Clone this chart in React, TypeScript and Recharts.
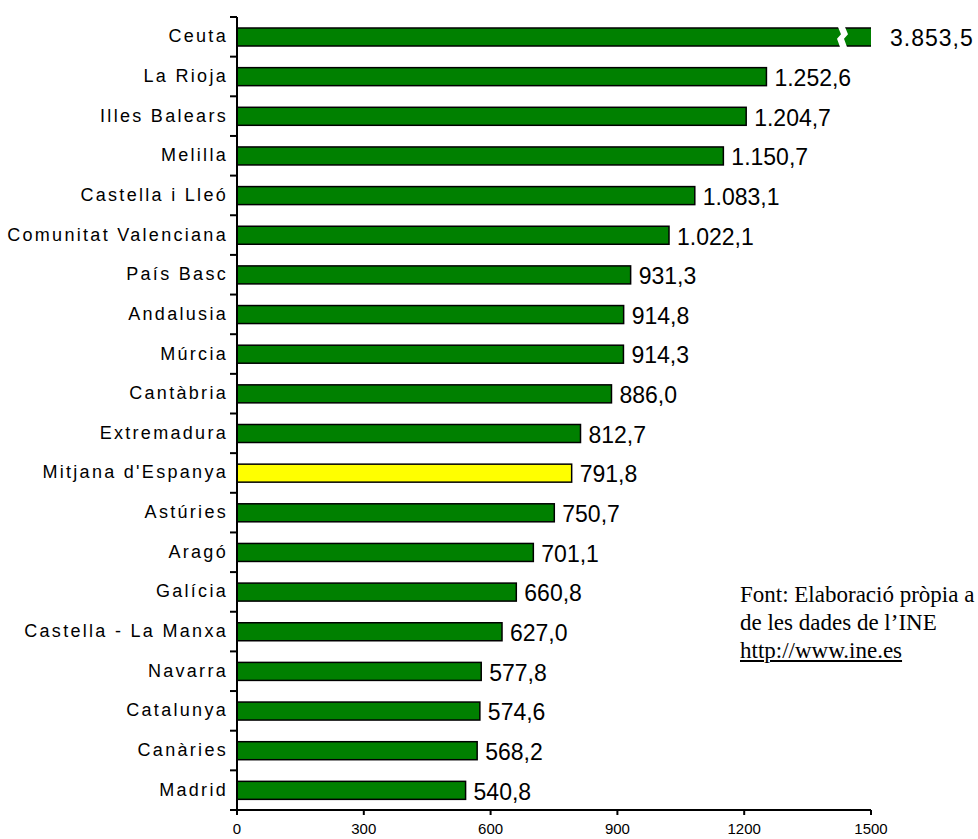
import React from 'react';
import { BarChart, Bar, XAxis, YAxis, Cell, LabelList } from 'recharts';

// regions, top to bottom
const regions = [
  'Ceuta', 'La Rioja', 'Illes Balears', 'Melilla', 'Castella i Lleó',
  'Comunitat Valenciana', 'País Basc', 'Andalusia', 'Múrcia', 'Cantàbria',
  'Extremadura', "Mitjana d'Espanya", 'Astúries', 'Aragó', 'Galícia',
  'Castella - La Manxa', 'Navarra', 'Catalunya', 'Canàries', 'Madrid',
];
const rates = [
  3853.5, 1252.6, 1204.7, 1150.7, 1083.1,
  1022.1, 931.3, 914.8, 914.3, 886.0,
  812.7, 791.8, 750.7, 701.1, 660.8,
  627.0, 577.8, 574.6, 568.2, 540.8,
];
const xTicks = [0, 300, 600, 900, 1200, 1500];
const averageName = "Mitjana d'Espanya";
const sourceLines = ['Font: Elaboració pròpia a', 'de les dades de l’INE'];
const sourceLink = 'http://www.ine.es';

const data = regions.map((name, i) => ({ name, value: rates[i] }));

const W = 978;
const H = 839;
const margin = { top: 17, right: 107, bottom: 0, left: 0 };
const AXIS_W = 237;
const AXIS_H = 29;
const PLOT_RIGHT = W - margin.right;
const band = (H - margin.top - AXIS_H) / regions.length;
const sans = '"Liberation Sans", Arial, sans-serif';

// 1.252,6 style
const fmt = (v: number) => {
  const [int, dec] = v.toFixed(1).split('.');
  return int.replace(/\B(?=(\d{3})+(?!\d))/g, '.') + ',' + dec;
};

const BrokenBar = (props: any) => {
  const { x, y, width, height, fill } = props;
  const w = Math.min(width, PLOT_RIGHT - x + 2);
  const broken = width > w;
  const bx = x + w - 35;
  return (
    <g>
      <rect x={x} y={y} width={w} height={height} fill={fill} stroke="#000" strokeWidth={1.5} />
      {broken && (
        <polygon
          points={[
            [bx, y - 1], [bx + 3, y + height * 0.35], [bx - 1, y + height * 0.6], [bx + 2, y + height + 1],
            [bx + 9, y + height + 1], [bx + 6, y + height * 0.6], [bx + 10, y + height * 0.35], [bx + 7, y - 1],
          ].map((p) => p.join(',')).join(' ')}
          fill="#fff"
        />
      )}
    </g>
  );
};

const ValueLabel = (props: any) => {
  const { x, y, width, height, value } = props;
  const broken = x + width > PLOT_RIGHT + 2;
  const end = broken ? PLOT_RIGHT + 2 : x + width;
  return (
    <text
      x={end + (broken ? 17 : 8)}
      y={y + height / 2 + 1}
      dy="0.36em"
      fontSize={23}
      letterSpacing={broken ? 1 : 0}
      fontFamily={sans}
      fill="#000"
    >
      {fmt(value)}
    </text>
  );
};

const RegionTick = (props: any) => {
  const { y, payload, index } = props;
  const top = y - band / 2;
  return (
    <g>
      <line x1={AXIS_W - 7} x2={AXIS_W} y1={top} y2={top} stroke="#000" strokeWidth={2} />
      {index === regions.length - 1 && (
        <line x1={AXIS_W - 7} x2={AXIS_W} y1={top + band} y2={top + band} stroke="#000" strokeWidth={2} />
      )}
      <text
        x={AXIS_W - 9}
        y={y - 1}
        dy="0.36em"
        textAnchor="end"
        fontSize={18}
        letterSpacing={2.3}
        fontFamily={sans}
        fill="#000"
      >
        {payload.value}
      </text>
    </g>
  );
};

const ScaleTick = (props: any) => {
  const { x, payload } = props;
  return (
    <text x={x} y={H - 10} dy="0.36em" textAnchor="middle" fontSize={15} fontFamily={sans} fill="#000">
      {payload.value}
    </text>
  );
};

export default function App() {
  return (
    <div style={{ position: 'absolute', left: 0, top: 0, width: W, height: H, background: '#fff' }}>
      <BarChart layout="vertical" width={W} height={H} data={data} margin={margin} barSize={18}>
        <XAxis
          type="number"
          domain={[0, 1500]}
          allowDataOverflow
          ticks={xTicks}
          height={AXIS_H}
          tickSize={5}
          axisLine={{ stroke: '#000', strokeWidth: 2 }}
          tickLine={{ stroke: '#000', strokeWidth: 2 }}
          tick={<ScaleTick />}
        />
        <YAxis
          type="category"
          dataKey="name"
          width={AXIS_W}
          interval={0}
          tickLine={false}
          axisLine={{ stroke: '#000', strokeWidth: 2 }}
          tick={<RegionTick />}
        />
        <Bar dataKey="value" shape={<BrokenBar />} isAnimationActive={false}>
          {data.map((d) => (
            <Cell key={d.name} fill={d.name === averageName ? '#ffff00' : '#008000'} />
          ))}
          <LabelList dataKey="value" content={<ValueLabel />} />
        </Bar>
      </BarChart>
      <div
        style={{
          position: 'absolute',
          left: 740,
          top: 581,
          fontFamily: '"Liberation Serif", "Times New Roman", serif',
          fontSize: 23,
          lineHeight: '28px',
          color: '#000',
          whiteSpace: 'nowrap',
        }}
      >
        {sourceLines.map((l) => (
          <div key={l}>{l}</div>
        ))}
        <div style={{ textDecoration: 'underline' }}>{sourceLink}</div>
      </div>
    </div>
  );
}
